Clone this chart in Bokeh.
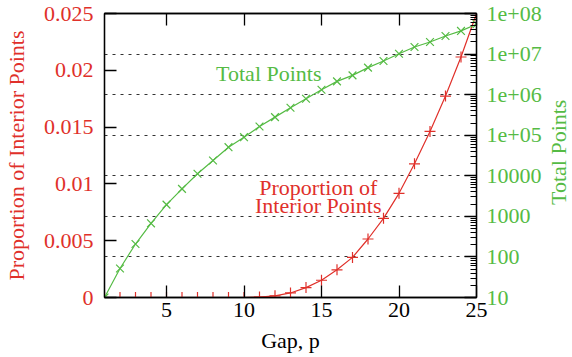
import math
from bokeh.plotting import figure
from bokeh.layouts import row
from bokeh.models import (Range1d, LinearAxis, LogAxis, LogScale, FixedTicker,
                          CustomJSTickFormatter, Grid, Label, Div)
from bokeh.embed import file_html
from bokeh.resources import INLINE

# ---- data ----
gap = list(range(1, 26))
proportion = [0, 0, 0, 0, 0, 0, 0, 0, 0, 0,
              0.00004, 0.00015, 0.0004, 0.00087, 0.00152, 0.00244, 0.00353,
              0.00515, 0.00697, 0.00917, 0.01177, 0.01462, 0.01773, 0.02117, 0.025]
total_points = [10, 52, 208, 673, 1950, 4750, 11200, 23800, 50700, 89500,
                164000, 279000, 476000, 794000, 1320000, 2120000, 2990000,
                4630000, 6760000, 10200000, 14900000, 19900000, 27900000,
                37200000, 54300000]
x_ticks = [5, 10, 15, 20, 25]
left_ticks = [0, 0.005, 0.01, 0.015, 0.02, 0.025]
right_ticks = [10, 100, 1000, 10000, 1e5, 1e6, 1e7, 1e8]
right_minor = [m * 10 ** k for k in range(1, 8) for m in range(2, 10)]

RED = "#e0302a"
GREEN = "#55bb44"
FONT = "Times New Roman"
FS = "22px"

p = figure(width=548, height=357, x_range=Range1d(1, 25), y_range=Range1d(0, 0.025),
           output_backend="svg", toolbar_location=None,
           min_border_left=104, min_border_right=72, min_border_top=13,
           min_border_bottom=60)
p.extra_y_ranges = {"right": Range1d(10, 1e8)}
p.extra_y_scales = {"right": LogScale()}
p.xgrid.visible = False
p.ygrid.visible = False
p.outline_line_color = "black"
p.outline_line_width = 1.3
p.background_fill_color = "white"
p.border_fill_color = "white"

def style(ax, color):
    ax.axis_line_color = "black"
    ax.axis_line_width = 1.3
    ax.major_tick_in = 12
    ax.major_tick_out = 0
    ax.minor_tick_in = 0
    ax.minor_tick_out = 0
    ax.major_tick_line_color = "black"
    ax.major_tick_line_width = 1.3
    ax.major_label_text_font = FONT
    ax.major_label_text_font_size = FS
    ax.major_label_text_color = color
    ax.axis_label_text_font = FONT
    ax.axis_label_text_font_size = FS
    ax.axis_label_text_font_style = "normal"
    ax.axis_label_text_color = color

# bottom axis
xa = p.xaxis[0]
style(xa, "black")
xa.ticker = FixedTicker(ticks=x_ticks)
xa.axis_label = "Gap, p"
xa.major_label_standoff = 5
xa.axis_label_standoff = 8

# top mirror ticks (no labels)
ta = LinearAxis(ticker=FixedTicker(ticks=x_ticks))
style(ta, "black")
ta.formatter = CustomJSTickFormatter(code="return '';")
ta.major_label_standoff = 0
p.add_layout(ta, "above")

# left axis
ya = p.yaxis[0]
style(ya, RED)
ya.ticker = FixedTicker(ticks=left_ticks)
ya.formatter = CustomJSTickFormatter(code="return tick.toString();")
ya.axis_label = "Proportion of Interior Points"
ya.major_label_standoff = 11
ya.axis_label_standoff = 12

# right log axis
ra = LogAxis(y_range_name="right")
style(ra, GREEN)
ra.ticker = FixedTicker(ticks=right_ticks, minor_ticks=right_minor)
ra.minor_tick_in = 6
ra.minor_tick_line_color = "black"
ra.minor_tick_line_width = 1.2
ra.formatter = CustomJSTickFormatter(code="""
const e = Math.round(Math.log10(tick));
if (e <= 4) return String(Math.round(tick));
return "1e+" + (e < 10 ? "0" : "") + e;
""")
ra.major_label_standoff = 10
p.add_layout(ra, "right")

# dotted grid from the right axis
g = Grid(dimension=1, ticker=FixedTicker(ticks=right_ticks), y_range_name="right",
         grid_line_color="#333333", grid_line_dash="3 5", grid_line_width=1)
p.add_layout(g)

# series
p.line(gap, proportion, line_color=RED, line_width=1.2)
p.scatter(gap, proportion, marker="cross", size=11, line_color=RED, line_width=1.2)
p.line(gap, total_points, line_color=GREEN, line_width=1.2, y_range_name="right")
p.scatter(gap, total_points, marker="x", size=11, line_color=GREEN, line_width=1.2,
          y_range_name="right")

# in-plot labels
p.add_layout(Label(x=8.2, y=0.0197, text="Total Points", text_align="left",
                   text_baseline="middle", text_font=FONT, text_font_size=FS,
                   text_color=GREEN))
p.add_layout(Label(x=14.79, y=0.00968, text="Proportion of", text_align="center",
                   text_baseline="middle", text_font=FONT, text_font_size=FS,
                   text_color=RED))
p.add_layout(Label(x=14.79, y=0.00813, text="Interior Points", text_align="center",
                   text_baseline="middle", text_font=FONT, text_font_size=FS,
                   text_color=RED))

# right axis title (reads upward, as in the reference)
right_title = Div(
    text=('<div style="position:absolute; left:-6px; top:47px; width:24px; height:200px;'
          ' writing-mode:vertical-rl; transform:rotate(180deg); text-align:center;'
          ' line-height:24px; font-family:\'Times New Roman\', \'Liberation Serif\', serif;'
          ' font-size:22px; color:' + GREEN + '; white-space:nowrap;">Total Points</div>'),
    width=24, height=357, styles={"position": "relative", "background": "white"})

layout = row(p, right_title, spacing=0)
open("out.html", "w").write(file_html(layout, INLINE))
